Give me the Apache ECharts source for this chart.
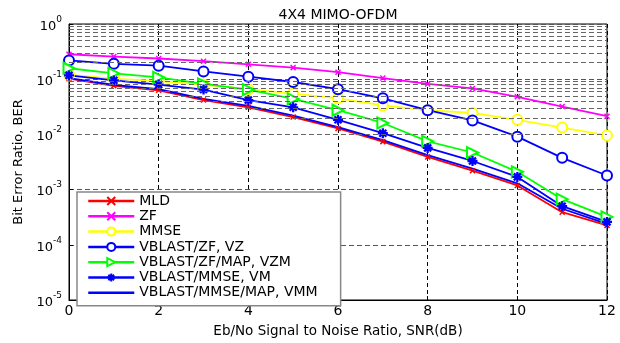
<!DOCTYPE html>
<html>
<head>
<meta charset="utf-8">
<script src="https://cdn.jsdelivr.net/npm/echarts@6/dist/echarts.min.js"></script>
<style>
  html, body { margin: 0; padding: 0; background: #fff; }
  #main { width: 620px; height: 343px; }
</style>
</head>
<body>
<div id="main"></div>
<script>
// SNR in dB
let snr = [0, 1, 2, 3, 4, 5, 6, 7, 8, 9, 10, 11, 12];

// BER curves
let mld  = [0.102, 0.076, 0.063, 0.042, 0.031, 0.0206, 0.0128, 0.0074, 0.0039, 0.0022, 0.00119, 0.00039, 0.000225];
let zf   = [0.283, 0.257, 0.237, 0.212, 0.186, 0.162, 0.134, 0.105, 0.082, 0.068, 0.048, 0.032, 0.0214];
let mmse = [0.12, 0.102, 0.092, 0.08, 0.066, 0.055, 0.045, 0.0335, 0.0274, 0.0245, 0.0184, 0.0133, 0.0096];
let vz   = [0.219, 0.19, 0.176, 0.138, 0.111, 0.089, 0.066, 0.045, 0.0274, 0.0179, 0.0091, 0.00376, 0.0018];
let vzm  = [0.158, 0.127, 0.108, 0.082, 0.065, 0.044, 0.0274, 0.0161, 0.0075, 0.0047, 0.0021, 0.00067, 0.00032];
let vm   = [0.117, 0.095, 0.08, 0.065, 0.0417, 0.031, 0.0184, 0.0105, 0.0057, 0.0033, 0.0017, 0.0005, 0.00026];
let vmm  = [0.105, 0.079, 0.066, 0.044, 0.033, 0.0218, 0.0135, 0.0079, 0.0042, 0.0024, 0.0013, 0.00045, 0.00024];

let names = ['MLD', 'ZF', 'MMSE', 'VBLAST/ZF, VZ', 'VBLAST/ZF/MAP, VZM', 'VBLAST/MMSE, VM', 'VBLAST/MMSE/MAP, VMM'];

// minor log grid lines (2..9 of each decade)
let minorLines = [];
for (let d = -5; d < 0; d++) {
	for (let k = 2; k <= 9; k++) {
		minorLines.push({ yAxis: k * Math.pow(10, d) });
	}
}

const crossPath = 'path://M0,0L10,10M10,0L0,10';
const starPath = 'path://M5,0L5,10M0,5L10,5M1.5,1.5L8.5,8.5M8.5,1.5L1.5,8.5';
const font = 'DejaVu Sans, Verdana, sans-serif';

function pairs(arr) {
	return snr.map(function (x, i) { return [x, arr[i]]; });
}

function makeSeries(name, arr, color, symbol, size, extra) {
	let s = {
		name: name,
		type: 'line',
		data: pairs(arr),
		symbol: symbol,
		symbolSize: size,
		showAllSymbol: true,
		lineStyle: { color: color, width: 1.8 },
		itemStyle: { color: color, borderColor: color, borderWidth: 1.5 },
		emphasis: { disabled: true },
		animation: false,
		z: 3
	};
	return Object.assign(s, extra || {});
}

let Chart = echarts.init(document.getElementById('main'));

const option = {
	backgroundColor: '#fff',
	animation: false,
	textStyle: { fontFamily: font },
	title: {
		text: '4X4 MIMO-OFDM',
		left: 333,
		textAlign: 'center',
		top: 3,
		textStyle: { fontSize: 14, fontWeight: 'normal', color: '#000', fontFamily: font }
	},
	grid: {
		left: 69,
		right: 13,
		top: 24,
		bottom: 36,
		show: true,
		borderColor: '#000',
		borderWidth: 1
	},
	legend: {
		orient: 'vertical',
		left: 77,
		top: 192,
		data: names,
		backgroundColor: '#fff',
		borderColor: '#888',
		borderWidth: 1.5,
		padding: [2, 23, 6, 10],
		itemWidth: 46,
		itemHeight: 10,
		itemGap: 1.3,
		lineStyle: { width: 2.5 },
		textStyle: { fontSize: 14, color: '#000', lineHeight: 14, fontFamily: font },
		z: 10
	},
	xAxis: {
		type: 'value',
		min: 0,
		max: 12,
		interval: 2,
		name: 'Eb/No Signal to Noise Ratio, SNR(dB)',
		nameLocation: 'middle',
		nameGap: 24,
		nameTextStyle: { fontSize: 13.5, color: '#000', fontFamily: font },
		axisLine: { lineStyle: { color: '#000' } },
		axisTick: { inside: true, length: 4, lineStyle: { color: '#000' } },
		axisLabel: { fontSize: 14, color: '#000', margin: 4, fontFamily: font },
		splitLine: { show: true, lineStyle: { color: '#000', type: [4, 3], width: 1 } }
	},
	yAxis: {
		type: 'log',
		logBase: 10,
		min: 1e-5,
		max: 1,
		name: 'Bit Error Ratio, BER',
		nameLocation: 'middle',
		nameGap: 41,
		nameTextStyle: { fontSize: 13, color: '#000', fontFamily: font },
		axisLine: { lineStyle: { color: '#000' } },
		axisTick: { inside: true, length: 4, lineStyle: { color: '#000' } },
		axisLabel: {
			margin: 7,
			color: '#000',
			formatter: function (v) {
				let e = Math.round(Math.log10(v));
				return '{b|10}{s|' + e + '}';
			},
			rich: {
				b: { fontSize: 13, color: '#000', fontFamily: font, padding: [5, 0, 0, 0] },
				s: { fontSize: 9, color: '#000', fontFamily: font, verticalAlign: 'top', padding: [0, 0, 6, 0] }
			}
		},
		splitLine: { show: true, lineStyle: { color: '#555', type: [5, 3], width: 1 } }
	},
	series: [
		makeSeries(names[0], mld, '#ff0000', crossPath, 5),
		makeSeries(names[1], zf, '#ff00ff', crossPath, 5),
		makeSeries(names[2], mmse, '#ffff00', 'emptyCircle', 10, { itemStyle: { color: '#ffff00', borderColor: '#ffff00', borderWidth: 2 } }),
		makeSeries(names[3], vz, '#0000ff', 'emptyCircle', 10, { itemStyle: { color: '#0000ff', borderColor: '#0000ff', borderWidth: 2 } }),
		makeSeries(names[4], vzm, '#00ff00', 'emptyTriangle', 11, { symbolRotate: -90, itemStyle: { color: '#00ff00', borderColor: '#00ff00', borderWidth: 1.8 } }),
		makeSeries(names[5], vm, '#0000ff', starPath, 10, { itemStyle: { color: '#0000ff', borderColor: '#0000ff', borderWidth: 2.3 } }),
		makeSeries(names[6], vmm, '#0000ff', 'circle', 1, {
			showSymbol: false,
			showAllSymbol: false,
			itemStyle: { color: 'rgba(0,0,0,0)', borderColor: 'rgba(0,0,0,0)', borderWidth: 0 }
		}),
		{
			name: 'minorGrid',
			type: 'line',
			data: [],
			silent: true,
			markLine: {
				silent: true,
				symbol: 'none',
				label: { show: false },
				lineStyle: { color: '#666', type: [5, 3], width: 1 },
				data: minorLines,
				animation: false
			},
			z: 1
		}
	]
};

Chart.setOption(option);
</script>
</body>
</html>
